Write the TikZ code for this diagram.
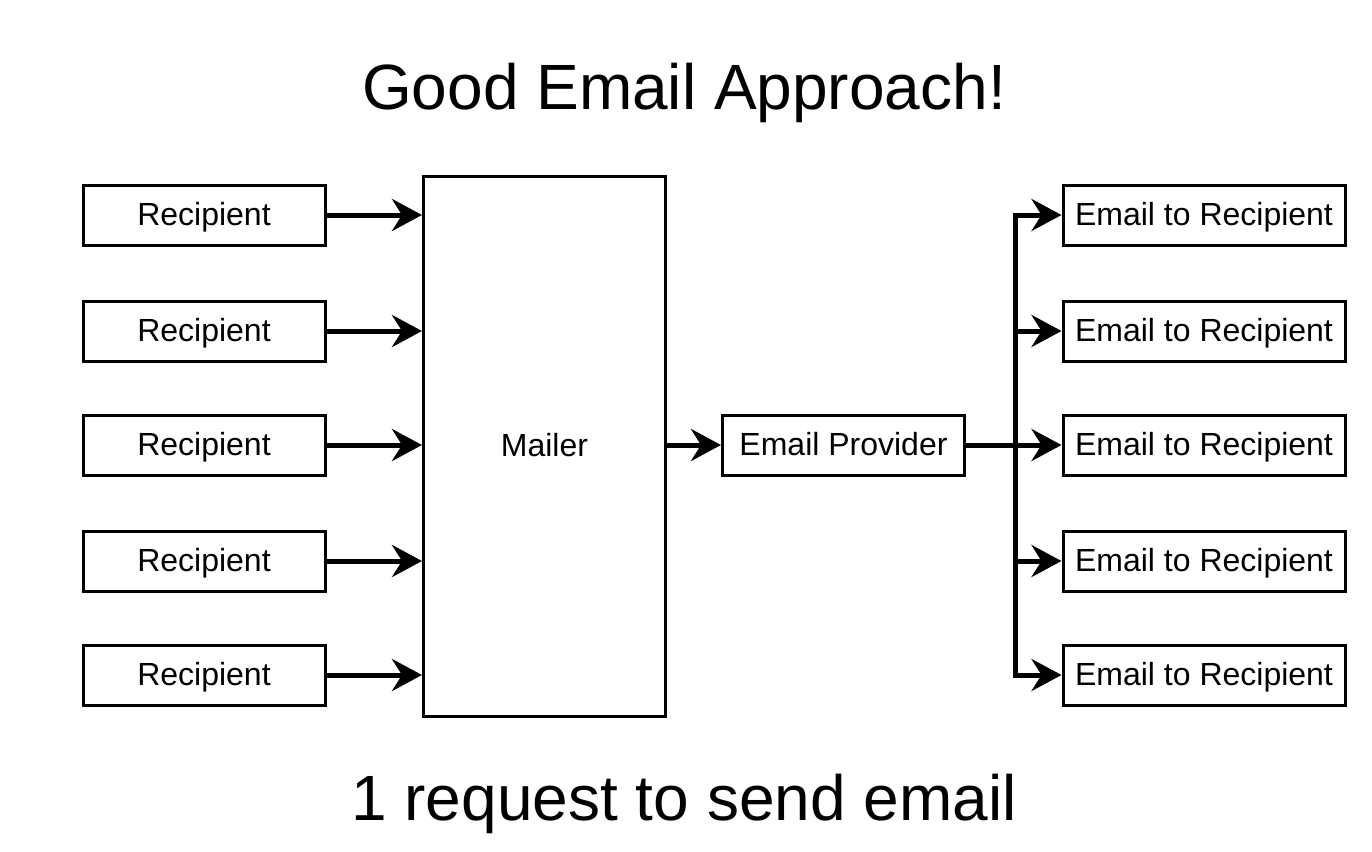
\documentclass[tikz,border=0pt]{standalone}
\usepackage{fontspec}
\setmainfont{Liberation Sans}
\usetikzlibrary{arrows.meta}
\begin{document}
\begin{tikzpicture}[x=0.5pt, y=-0.5pt, line width=1.5pt,
    box/.style={draw, rectangle, minimum width=121pt, minimum height=30pt, inner sep=0pt, text height=11.5pt, text depth=1.5pt, font=\fontsize{16}{19}\selectfont},
    email box/.style={box, minimum width=141pt},
    big text/.style={anchor=base, font=\fontsize{32}{38}\selectfont},
    arr/.style={-{Stealth[length=15pt, width=16pt, inset=5pt]}, line width=2.5pt}]

            \useasboundingbox (0,0) rectangle (1372,852);

            \node[big text] at (684, 109) (title) {Good Email Approach!};
            \node[big text] at (684, 820) (note) {1 request to send email};

            \node[box] at (204, 215) (r1) {Recipient};
            \node[box] at (204, 331) (r2) {Recipient};
            \node[box] at (204, 445) (r3) {Recipient};
            \node[box] at (204, 561) (r4) {Recipient};
            \node[box] at (204, 675) (r5) {Recipient};

            \node[box, minimum height=270pt] at (544.5, 446) (mailer) {Mailer};
            \node[box] at (843.5, 445) (provider) {Email Provider};

            \node[email box] at (1204, 215) (e1) {Email to Recipient};
            \node[email box] at (1204, 331) (e2) {Email to Recipient};
            \node[email box] at (1204, 445) (e3) {Email to Recipient};
            \node[email box] at (1204, 561) (e4) {Email to Recipient};
            \node[email box] at (1204, 675) (e5) {Email to Recipient};

            \coordinate (split) at (1015, 445);

            \path[arr] (r1.east) edge (r1.east -| mailer.west);
            \path[arr] (r2.east) edge (r2.east -| mailer.west);
            \path[arr] (r3.east) edge (r3.east -| mailer.west);
            \path[arr] (r4.east) edge (r4.east -| mailer.west);
            \path[arr] (r5.east) edge (r5.east -| mailer.west);
            \path[arr] (mailer.east |- provider.west) edge (provider.west);
            \path[arr] (provider.east) edge (e3.west);
            \draw[arr] (split) |- (e1.west);
            \draw[arr] (split) |- (e2.west);
            \draw[arr] (split) |- (e4.west);
            \draw[arr] (split) |- (e5.west);
        \end{tikzpicture}
\end{document}
